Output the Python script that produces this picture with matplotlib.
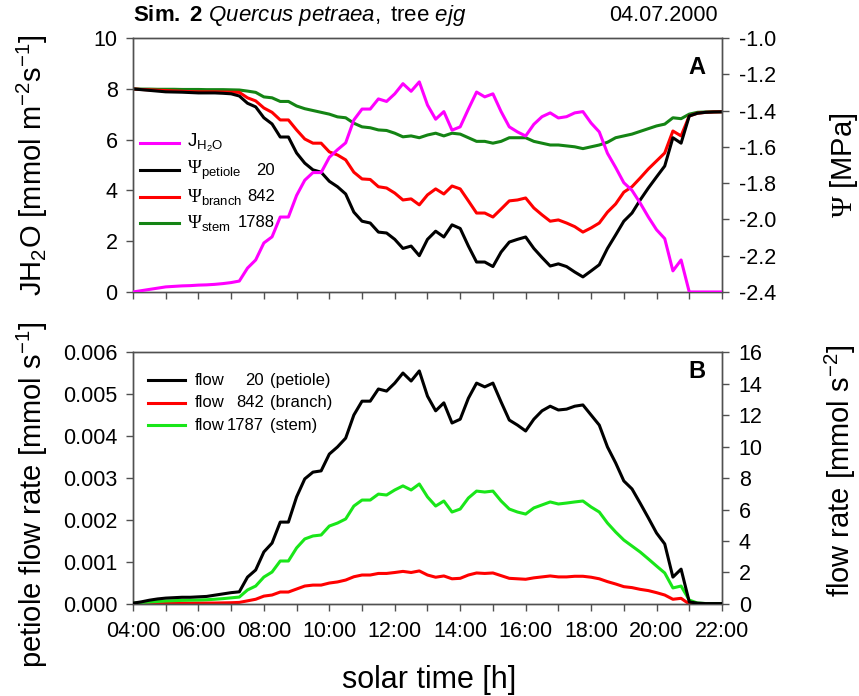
import numpy as np
import matplotlib
matplotlib.use("Agg")
import matplotlib.pyplot as plt
from matplotlib.ticker import MultipleLocator, FuncFormatter

plt.rcParams['font.family'] = ['Liberation Sans', 'DejaVu Sans']
plt.rcParams['mathtext.fontset'] = 'custom'
plt.rcParams['mathtext.rm'] = 'Liberation Serif'
plt.rcParams['mathtext.sf'] = 'Liberation Sans'
plt.rcParams['mathtext.it'] = 'Liberation Sans:italic'
plt.rcParams['mathtext.bf'] = 'Liberation Sans:bold'

# solar time, 15 min steps from 04:00 to 22:00
hours = np.arange(4.0, 22.01, 0.25)

# panel A: transpiration J_H2O [mmol m-2 s-1]
j_h2o = [0.0, 0.05, 0.1, 0.15, 0.2, 0.22, 0.24, 0.25, 0.27, 0.28, 0.3, 0.33, 0.37, 0.43,
         0.94, 1.26, 1.93, 2.17, 2.95, 2.95,
         3.8, 4.4, 4.7, 4.7, 5.3, 5.6, 5.87, 6.77,
         7.2, 7.2, 7.6, 7.5, 7.8, 8.2, 7.9, 8.27,
         7.36, 6.8, 7.1, 6.37, 6.5, 7.2, 7.87, 7.68,
         7.8, 7.1, 6.5, 6.3, 6.14, 6.6, 6.9, 7.05,
         6.85, 6.9, 7.05, 7.1, 6.65, 6.3, 5.46, 4.9,
         4.3, 4.0, 3.5, 2.95, 2.45, 2.1, 0.83, 1.26,
         0.0, 0.0, 0.0, 0.0, 0.0]

# water potentials [MPa]
psi_petiole = [-1.281, -1.285, -1.289, -1.293, -1.297, -1.298, -1.299, -1.301, -1.303, -1.303, -1.303, -1.305, -1.308, -1.32,
               -1.36, -1.38, -1.44, -1.474, -1.546, -1.546,
               -1.634, -1.69, -1.727, -1.74, -1.79, -1.82, -1.86, -1.96,
               -2.01, -2.02, -2.07, -2.075, -2.11, -2.16, -2.147, -2.20,
               -2.11, -2.065, -2.097, -2.03, -2.05, -2.147, -2.235, -2.235,
               -2.26, -2.18, -2.125, -2.11, -2.097, -2.16, -2.21, -2.257,
               -2.245, -2.26, -2.29, -2.317, -2.284, -2.25, -2.16, -2.086,
               -2.01, -1.965, -1.893, -1.827, -1.766, -1.706, -1.55, -1.58,
               -1.43, -1.415, -1.41, -1.408, -1.407]
psi_branch = [-1.281, -1.284, -1.286, -1.288, -1.29, -1.292, -1.294, -1.296, -1.297, -1.297, -1.297, -1.298, -1.299, -1.30,
              -1.33, -1.347, -1.386, -1.41, -1.452, -1.452,
              -1.507, -1.557, -1.58, -1.58, -1.628, -1.645, -1.672, -1.74,
              -1.777, -1.78, -1.82, -1.827, -1.855, -1.893, -1.887, -1.92,
              -1.865, -1.832, -1.86, -1.816, -1.832, -1.898, -1.965, -1.965,
              -1.987, -1.943, -1.898, -1.893, -1.882, -1.937, -1.975, -2.01,
              -2.003, -2.02, -2.04, -2.07, -2.047, -2.02, -1.96, -1.915,
              -1.85, -1.82, -1.772, -1.722, -1.678, -1.634, -1.513, -1.54,
              -1.43, -1.415, -1.41, -1.408, -1.407]
psi_stem = [-1.281, -1.282, -1.282, -1.283, -1.283, -1.283, -1.284, -1.284, -1.284, -1.285, -1.285, -1.285, -1.286, -1.287,
            -1.293, -1.30, -1.325, -1.33, -1.35, -1.35,
            -1.375, -1.39, -1.40, -1.41, -1.42, -1.435, -1.44, -1.47,
            -1.49, -1.495, -1.507, -1.51, -1.525, -1.545, -1.54, -1.55,
            -1.535, -1.525, -1.54, -1.525, -1.53, -1.55, -1.57, -1.57,
            -1.58, -1.57, -1.55, -1.55, -1.55, -1.57, -1.58, -1.59,
            -1.59, -1.595, -1.60, -1.61, -1.60, -1.59, -1.575, -1.55,
            -1.54, -1.53, -1.515, -1.50, -1.485, -1.475, -1.44, -1.445,
            -1.42, -1.41, -1.408, -1.407, -1.407]

# panel B: flow rates; petiole [mmol s-1] on the left axis, branch/stem on the right
flow_petiole = [0.00002, 0.00005, 0.00009, 0.00012, 0.00014, 0.00015, 0.00016, 0.00016, 0.00017, 0.00018, 0.00021, 0.00024, 0.00027, 0.00029,
                0.00064, 0.00081, 0.00124, 0.00145, 0.00195, 0.00195,
                0.00255, 0.00298, 0.00314, 0.00317, 0.00357, 0.00374, 0.00395, 0.0045,
                0.00483, 0.00483, 0.00512, 0.00507, 0.00526, 0.0055, 0.00531, 0.00555,
                0.00495, 0.0046, 0.00479, 0.00431, 0.0044, 0.0049, 0.00526, 0.00517,
                0.00526, 0.00481, 0.00438, 0.00426, 0.00412, 0.0044, 0.0046, 0.00471,
                0.00462, 0.00464, 0.00471, 0.00474, 0.0045, 0.00426, 0.00374, 0.00336,
                0.00293, 0.00274, 0.0024, 0.00205, 0.00169, 0.00143, 0.00064, 0.00083,
                0.00005, 0.00002, 0.00001, 0.00001, 0.00001]
flow_branch = [0.0, 0.01, 0.02, 0.02, 0.03, 0.04, 0.05, 0.05, 0.06, 0.06, 0.06, 0.07, 0.08, 0.1,
               0.2, 0.3, 0.5, 0.57, 0.76, 0.76,
               0.95, 1.14, 1.2, 1.2, 1.33, 1.4, 1.52, 1.73,
               1.84, 1.84, 1.94, 1.94, 2.0, 2.07, 2.0, 2.1,
               1.84, 1.7, 1.78, 1.6, 1.63, 1.84, 1.97, 1.94,
               1.97, 1.8, 1.63, 1.6, 1.57, 1.66, 1.72, 1.78,
               1.72, 1.72, 1.76, 1.76, 1.7, 1.6, 1.42, 1.27,
               1.1, 1.04, 0.93, 0.85, 0.72, 0.57, 0.3, 0.36,
               0.0, 0.0, 0.0, 0.0, 0.0]
flow_stem = [0.06, 0.09, 0.12, 0.16, 0.19, 0.21, 0.23, 0.24, 0.25, 0.27, 0.3, 0.34, 0.39, 0.44,
             0.89, 1.14, 1.71, 2.03, 2.73, 2.73,
             3.56, 4.13, 4.32, 4.38, 4.95, 5.14, 5.4, 6.22,
             6.6, 6.6, 6.98, 6.92, 7.24, 7.5, 7.24, 7.62,
             6.8, 6.22, 6.54, 5.84, 6.03, 6.73, 7.17, 7.11,
             7.17, 6.54, 6.03, 5.84, 5.71, 6.1, 6.29, 6.48,
             6.35, 6.41, 6.48, 6.54, 6.16, 5.84, 5.14, 4.57,
             4.06, 3.68, 3.3, 2.86, 2.41, 1.97, 1.02, 1.14,
             0.25, 0.06, 0.03, 0.03, 0.03]

C_MAG = '#ff00ff'
C_RED = '#ff0000'
C_DKGREEN = '#148414'
C_GREEN = '#19e619'
SPINE = '#505050'
LW = 2.2
TICK_FS = 15.5
LABEL_FS = 21

fig = plt.figure(figsize=(8.59, 6.96), dpi=100)
ax_a = fig.add_axes([0.1548, 0.5805, 0.6857, 0.365])
ax_b = fig.add_axes([0.1548, 0.1322, 0.6857, 0.362])
ax_a2 = ax_a.twinx()
ax_b2 = ax_b.twinx()


def style(ax):
    for s in ax.spines.values():
        s.set_color(SPINE)
        s.set_linewidth(1.0)
    ax.tick_params(direction='out', length=5, width=1, color=SPINE, labelsize=TICK_FS, pad=6)


for ax in (ax_a, ax_b, ax_a2, ax_b2):
    style(ax)
    ax.set_xlim(4, 22)
    ax.xaxis.set_major_locator(MultipleLocator(2))
    ax.xaxis.set_minor_locator(MultipleLocator(1))
    ax.tick_params(axis='x', which='minor', direction='out', length=5, width=1, color=SPINE)

ax_a2.tick_params(axis='y', pad=7)
ax_b2.tick_params(axis='y', pad=7)
ax_a.tick_params(axis='x', labelbottom=False)
ax_b.xaxis.set_major_formatter(FuncFormatter(lambda v, p: f"{int(v):02d}:00"))
ax_b.tick_params(axis='x', pad=7)

# panel A
ax_a.plot(hours, j_h2o, color=C_MAG, lw=LW, zorder=3)
ax_a2.plot(hours, psi_stem, color=C_DKGREEN, lw=LW)
ax_a2.plot(hours, psi_branch, color=C_RED, lw=LW)
ax_a2.plot(hours, psi_petiole, color='black', lw=LW)
ax_a.set_zorder(ax_a2.get_zorder() + 1)
ax_a.patch.set_visible(False)
ax_a.set_ylim(0, 10)
ax_a.yaxis.set_major_locator(MultipleLocator(2))
ax_a2.set_ylim(-2.4, -1.0)
ax_a2.yaxis.set_major_locator(MultipleLocator(0.2))
ax_a2.yaxis.set_major_formatter(FuncFormatter(lambda v, p: f"{v:.1f}"))

# panel B
ax_b.plot(hours, flow_petiole, color='black', lw=LW, zorder=3)
ax_b2.plot(hours, flow_branch, color=C_RED, lw=LW)
ax_b2.plot(hours, flow_stem, color=C_GREEN, lw=LW)
ax_b.set_zorder(ax_b2.get_zorder() + 1)
ax_b.patch.set_visible(False)
ax_b.set_ylim(0, 0.006)
ax_b.yaxis.set_major_locator(MultipleLocator(0.001))
ax_b.yaxis.set_major_formatter(FuncFormatter(lambda v, p: f"{v:.3f}"))
ax_b2.set_ylim(0, 16)
ax_b2.yaxis.set_major_locator(MultipleLocator(2))

# legend, panel A
leg_a = [(C_MAG, r'$\mathsf{J}_{\mathsf{H_2O}}$', ''),
         ('black', r'$\Psi_{\mathsf{petiole}}$', '20'),
         (C_RED, r'$\Psi_{\mathsf{branch}}$', '842'),
         (C_DKGREEN, r'$\Psi_{\mathsf{stem}}$', '1788')]
for (c, lab, num), y in zip(leg_a, [0.587, 0.480, 0.374, 0.272]):
    ax_a.plot([0.012, 0.078], [y, y], color=c, lw=LW, transform=ax_a.transAxes, clip_on=False)
    ax_a.text(0.092, y, lab, transform=ax_a.transAxes, fontsize=13.5, va='center', ha='left')
    ax_a.text(0.241, y, num, transform=ax_a.transAxes, fontsize=12, va='center', ha='right')

# legend, panel B
leg_b = [('black', '20', '(petiole)'),
         (C_RED, '842', '(branch)'),
         (C_GREEN, '1787', '(stem)')]
for (c, num, part), y in zip(leg_b, [0.889, 0.798, 0.710]):
    ax_b.plot([0.025, 0.088], [y, y], color=c, lw=LW, transform=ax_b.transAxes, clip_on=False)
    ax_b.text(0.105, y, 'flow', transform=ax_b.transAxes, fontsize=12, va='center', ha='left')
    ax_b.text(0.222, y, num, transform=ax_b.transAxes, fontsize=12, va='center', ha='right')
    ax_b.text(0.232, y, part, transform=ax_b.transAxes, fontsize=12, va='center', ha='left')

ax_a.text(0.958, 0.882, 'A', transform=ax_a.transAxes, fontsize=17, fontweight='bold', ha='center', va='center')
ax_b.text(0.958, 0.921, 'B', transform=ax_b.transAxes, fontsize=17, fontweight='bold', ha='center', va='center')

# titles and axis labels
fig.text(0.1548, 0.970, r'$\mathbf{Sim.\ 2}\ \mathit{Quercus\ petraea}\mathsf{,\ tree}\ \mathit{ejg}$',
         fontsize=16, ha='left', va='baseline')
fig.text(0.836, 0.970, '04.07.2000', fontsize=15.5, ha='right', va='baseline')

fig.text(0.038, 1 - 165 / 696, r'$\mathsf{JH_2O\ [mmol\ m^{-2}s^{-1}]}$', rotation=90,
         fontsize=LABEL_FS, ha='center', va='center')
fig.text(0.038, 1 - 495 / 696, r'$\mathsf{petiole\ flow\ rate\ [mmol\ s^{-1}]}$', rotation=90,
         fontsize=LABEL_FS, ha='center', va='center')
fig.text(0.983, 1 - 165 / 696, r'$\Psi\ \mathsf{[MPa]}$', rotation=90,
         fontsize=LABEL_FS, ha='center', va='center')
fig.text(0.978, 1 - 471 / 696, r'$\mathsf{flow\ rate\ [mmol\ s^{-2}]}$', rotation=90,
         fontsize=LABEL_FS, ha='center', va='center')
fig.text(0.4994, 1 - 680 / 696, 'solar time [h]', fontsize=22, ha='center', va='center')

fig.savefig('out.png', dpi=100)
